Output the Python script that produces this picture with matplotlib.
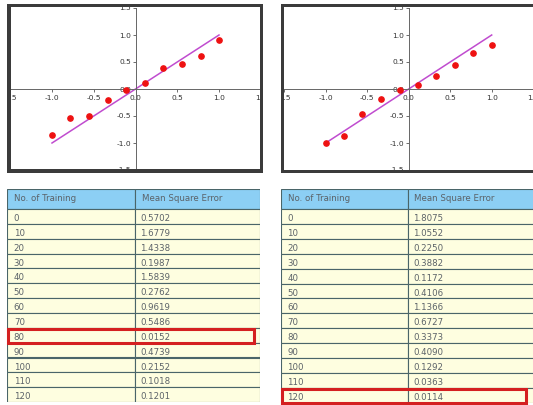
import matplotlib
matplotlib.use("Agg")
import matplotlib.pyplot as plt
from matplotlib.patches import Rectangle

# ---------------- data ----------------
x_points = [-1.0, -0.78, -0.56, -0.33, -0.11, 0.11, 0.33, 0.56, 0.78, 1.0]
y_left = [-0.85, -0.53, -0.50, -0.21, -0.02, 0.12, 0.38, 0.46, 0.62, 0.91]
y_right = [-1.0, -0.87, -0.47, -0.18, -0.02, 0.07, 0.24, 0.44, 0.66, 0.82]
fit_x = [-1.0, 1.0]
fit_y = [-1.0, 1.0]
tick_vals = [-1.5, -1.0, -0.5, 0.0, 0.5, 1.0, 1.5]

header_labels = ["No. of Training", "Mean Square Error"]
trainings = [0, 10, 20, 30, 40, 50, 60, 70, 80, 90, 100, 110, 120]
mse_left = [0.5702, 1.6779, 1.4338, 0.1987, 1.5839, 0.2762, 0.9619, 0.5486,
            0.0152, 0.4739, 0.2152, 0.1018, 0.1201]
mse_right = [1.8075, 1.0552, 0.2250, 0.3882, 0.1172, 0.4106, 1.1366, 0.6727,
             0.3373, 0.4090, 0.1292, 0.0363, 0.0114]

# ---------------- layout helpers ----------------
W, H = 533, 405
fig = plt.figure(figsize=(W / 100, H / 100), dpi=100)
fig.patch.set_facecolor("white")


def rect_px(x0, y0, x1, y1):
    """figure-fraction rect from pixel box (top-left origin)"""
    return [x0 / W, 1 - y1 / H, (x1 - x0) / W, (y1 - y0) / H]


def draw_plot(box, ys):
    ax = fig.add_axes(rect_px(*box))
    ax.set_xlim(-1.5, 1.5)
    ax.set_ylim(-1.5, 1.5)
    ax.plot(fit_x, fit_y, color="#c04ccf", lw=1.1, zorder=2)
    ax.plot(x_points, ys, "o", color="#ee1111", ms=3.8, mec="#ee1111", zorder=3)
    for s in ["top", "right"]:
        ax.spines[s].set_visible(False)
    for s in ["left", "bottom"]:
        ax.spines[s].set_position("zero")
        ax.spines[s].set_color("#666666")
        ax.spines[s].set_linewidth(0.7)
    ax.set_xticks(tick_vals)
    ax.set_yticks(tick_vals)
    ax.set_xticklabels([f"{v:.1f}" for v in tick_vals])
    ax.set_yticklabels([f"{v:.1f}" for v in tick_vals])
    ax.tick_params(axis="both", labelsize=5.4, colors="#555555",
                   length=2, width=0.6, labelcolor="#333333")
    ax.tick_params(axis="x", pad=2.2)
    ax.tick_params(axis="y", pad=1.2)
    ax.patch.set_alpha(0)
    return ax


axL = draw_plot((10.25, 8, 260.75, 170), y_left)
axR = draw_plot((284.2, 8, 533.2, 170), y_right)

# white masks (screenshot cropping) and dark frames
frame_col = "#3b3b3b"


def fig_rect(x0, y0, x1, y1, color, z):
    r = Rectangle((x0 / W, 1 - y1 / H), (x1 - x0) / W, (y1 - y0) / H,
                  transform=fig.transFigure, facecolor=color, edgecolor="none",
                  zorder=z)
    fig.add_artist(r)


fig_rect(0, 0, 7.3, 180, "white", 10)
fig_rect(262.5, 0, 281, 180, "white", 10)
# left frame
fig_rect(7.3, 4.3, 11, 173, frame_col, 11)
fig_rect(7.3, 4.3, 262.5, 7.3, frame_col, 11)
fig_rect(260, 4.3, 262.5, 173, frame_col, 11)
fig_rect(7.3, 169, 262.5, 173, frame_col, 11)
# right frame
fig_rect(281, 4.5, 283.5, 173.3, frame_col, 11)
fig_rect(281, 4.5, 533, 7.2, frame_col, 11)
fig_rect(281, 170.5, 533, 173.3, frame_col, 11)


# ---------------- tables ----------------
def draw_table(x0, y0, x1, col_split, header_h, row_h, values, red_inset):
    n = len(trainings)
    total_h = header_h + n * row_h
    width = x1 - x0
    ax = fig.add_axes(rect_px(x0, y0, x1, y0 + total_h))
    ax.set_xlim(0, width)
    ax.set_ylim(total_h, 0)
    ax.axis("off")
    edge = "#4a6569"
    txt_col = "#5b6268"
    fs = 6.2
    col_x = [0, col_split]
    col_w = [col_split, width - col_split]
    # header
    for c in range(2):
        ax.add_patch(Rectangle((col_x[c], 0), col_w[c], header_h,
                               facecolor="#8ccff4", edgecolor=edge, lw=0.8))
        ax.text(col_x[c] + 6.5, 12.3, header_labels[c], fontsize=fs,
                color=txt_col, va="baseline", ha="left")
    # rows
    for i, (t, v) in enumerate(zip(trainings, values)):
        top = header_h + i * row_h
        for c in range(2):
            ax.add_patch(Rectangle((col_x[c], top), col_w[c], row_h,
                                   facecolor="#fefee0", edgecolor=edge, lw=0.8))
        ax.text(col_x[0] + 6.5, top + 12.0, str(t), fontsize=fs,
                color=txt_col, va="baseline", ha="left")
        ax.text(col_x[1] + 5.5, top + 12.0, f"{v:.4f}", fontsize=fs,
                color=txt_col, va="baseline", ha="left")
    # highlight minimum MSE row
    best = min(range(n), key=lambda k: values[k])
    top = header_h + best * row_h
    ax.add_patch(Rectangle((0.8, top + 1.2), width - red_inset, row_h - 0.6,
                           facecolor="none", edgecolor="#d42020", lw=2.2,
                           zorder=5, clip_on=False))
    return ax


draw_table(7.3, 189, 260, 127.7, 20, 14.85, mse_left, 6.5)
draw_table(281, 188.5, 535, 127, 20.5, 14.9, mse_right, 9.5)

fig.savefig("out.png", dpi=100, facecolor="white")
